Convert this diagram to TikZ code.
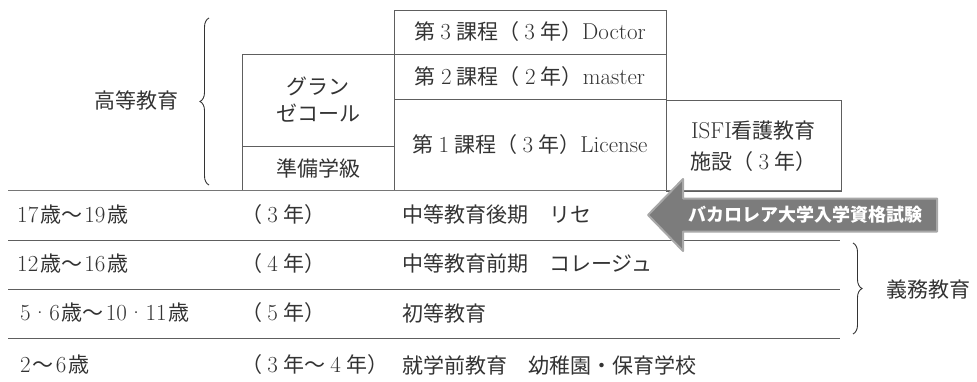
\documentclass[tikz,border=0pt]{standalone}
\usepackage{fontspec}
\newfontfamily\jp{Noto Sans CJK JP}
\usetikzlibrary{decorations.pathreplacing}
\newcommand\lw[1]{{\rmfamily\fontsize{23}{27}\selectfont #1}}
\newcommand\la[1]{\hspace{2pt}\lw{#1}\hspace{2pt}}
\newcommand\fw[1]{\makebox[1em]{\lw{#1}}}
\definecolor{ink}{HTML}{333333}
\definecolor{rulec}{HTML}{5E5E5E}
\definecolor{arrfill}{HTML}{7C7C7C}
\definecolor{arrdraw}{HTML}{A8A8A8}
\begin{document}
\begin{tikzpicture}[x=1pt,y=-1pt,
  txt/.style={font=\jp\fontsize{21}{27}\selectfont, text=ink, inner sep=0pt},
  lbl/.style={txt, anchor=west},
  cell/.style={txt, draw=rulec, line width=1pt, align=center},
  rowline/.style={draw=rulec, line width=1pt},
  brc/.style={draw=ink, line width=0.9pt, decorate, decoration={brace, amplitude=9pt}},
  bigarrow/.style={fill=arrfill, draw=arrdraw, line width=2pt, line join=round}
]
\useasboundingbox (0,0) rectangle (977,381);

% upper boxes
\node[cell, minimum width=272pt, minimum height=44pt] (doc) at (530,32)
  {第\fw{3}課程（\fw{3}年）\lw{Doctor}};
\node[cell, minimum width=272pt, minimum height=45pt] (mas) at (530,76.5)
  {第\fw{2}課程（\fw{2}年）\lw{master}};
\node[cell, minimum width=272pt, minimum height=91pt] (lic) at (530,144.5)
  {第\fw{1}課程（\fw{3}年）\lw{License}};
\node[cell, minimum width=152pt, minimum height=92pt] (gra) at (318,100)
  {グラン\\ゼコール};
\node[cell, minimum width=152pt, minimum height=44pt] (prep) at (318,168)
  {準備学級};
\node[cell, minimum width=175pt, minimum height=91pt, font=\jp\fontsize{21}{31}\selectfont] (isfi) at (753.5,146)
  {\lw{ISFI}看護教育\\施設（\fw{3}年）};

% row lines
\coordinate (l0a) at (8,190.5);  \coordinate (l0b) at (841,190.5);
\coordinate (l1a) at (8,240);    \coordinate (l1b) at (840,240);
\coordinate (l2a) at (8,289);    \coordinate (l2b) at (840,289);
\coordinate (l3a) at (8,338);    \coordinate (l3b) at (840,338);
\draw[rowline, line width=1.6pt, draw=rulec!85] (l0a) -- (l0b);
\draw[rowline] (l1a) -- (l1b);
\draw[rowline] (l2a) -- (l2b);
\draw[rowline] (l3a) -- (l3b);

% row texts
\node[lbl] (a1) at (15,215) {\la{17}歳〜\la{19}歳};
\node[lbl] (b1) at (241,215) {（\fw{3}年）};
\node[lbl] (c1) at (402,215) {中等教育後期　リセ};

\node[lbl] (a2) at (15,264) {\la{12}歳〜\la{16}歳};
\node[lbl] (b2) at (241,264) {（\fw{4}年）};
\node[lbl] (c2) at (402,264) {中等教育前期　コレージュ};

\node[lbl] (a3) at (18,313) {\la{5\kern1pt·\kern1pt6}歳〜\la{10\kern1pt·\kern1pt11}歳};
\node[lbl] (b3) at (241,313) {（\fw{5}年）};
\node[lbl] (c3) at (402,313) {初等教育};

\node[lbl] (a4) at (18,365) {\la{2}〜\la{6}歳};
\node[lbl] (b4) at (241,365) {（\fw{3}年〜\fw{4}年）};
\node[lbl] (c4) at (402,365) {就学前教育　幼稚園・保育学校};

% braces and group labels
\coordinate (hb1) at (209,185);
\coordinate (hb2) at (209,18);
\draw[brc] (hb1) -- (hb2);
\node[txt] (high) at (136,100) {高等教育};

\coordinate (gb1) at (853,243);
\coordinate (gb2) at (853,334);
\draw[brc] (gb1) -- (gb2);
\node[lbl] (gimu) at (886,290) {義務教育};

% big arrow
\draw[bigarrow] (937,198.5) -- (683,198.5) -- (683,179) -- (648,215)
  -- (683,251) -- (683,231.5) -- (937,231.5) -- cycle;
\node[txt, text=white, font=\jp\bfseries\fontsize{18}{20}\selectfont] (bac) at (805,215)
  {バカロレア大学入学資格試験};
\end{tikzpicture}
\end{document}
